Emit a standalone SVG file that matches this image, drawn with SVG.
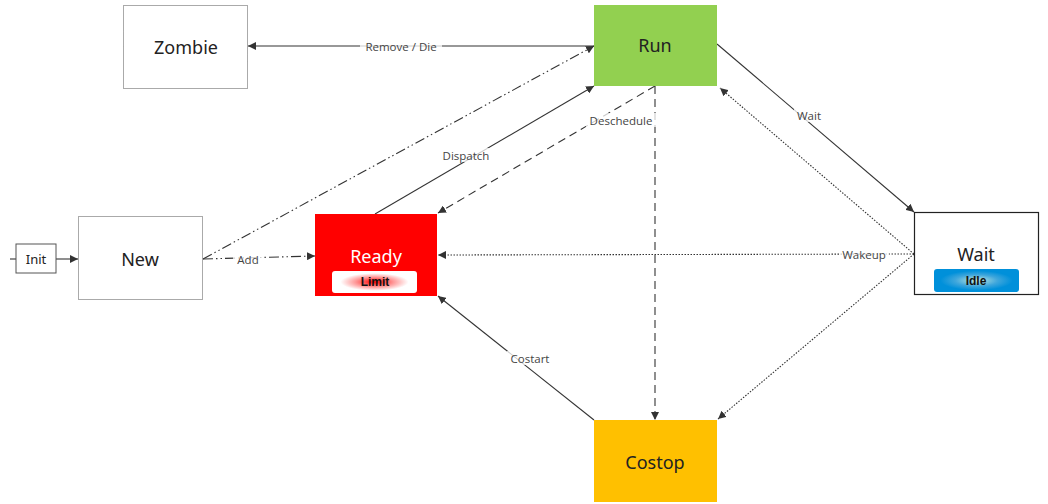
<svg xmlns="http://www.w3.org/2000/svg" width="1048" height="504" viewBox="0 0 1048 504">
<style>
.lbl{font-family:"Noto Sans","Open Sans",sans-serif;font-size:18px;fill:#222;text-anchor:middle;dominant-baseline:central}
.el{font-family:"Open Sans","Noto Sans",sans-serif;font-size:11.5px;fill:#444;text-anchor:middle;dominant-baseline:central}
.pill{font-family:"Liberation Sans","Noto Sans",sans-serif;font-size:12px;font-weight:bold;fill:#111;text-anchor:middle;dominant-baseline:central}
.c{fill:none;stroke:#333;stroke-width:1.1}
.dot{stroke-dasharray:1.5 1.5}
.dash{stroke-dasharray:8 5}
.dd{stroke-dasharray:10 3 1.5 3 1.5 3}
.lb{fill:#fff;opacity:0.75}
</style>
<defs>
<marker id="ah" viewBox="0 0 10 10" refX="10" refY="5" markerWidth="8" markerHeight="8" markerUnits="userSpaceOnUse" orient="auto">
<path d="M0,0 L10,5 L0,10 z" fill="#333"/>
</marker>
<radialGradient id="gLimit" cx="0.5" cy="0.5" r="0.5">
<stop offset="0" stop-color="#ff0000"/>
<stop offset="0.45" stop-color="#ff9a9a"/>
<stop offset="0.8" stop-color="#ffffff"/>
</radialGradient>
<radialGradient id="gIdle" cx="0.5" cy="0.5" r="0.5">
<stop offset="0" stop-color="#bfe8e0"/>
<stop offset="0.5" stop-color="#3ea6dc"/>
<stop offset="0.85" stop-color="#0090da"/>
</radialGradient>
</defs>
<rect width="1048" height="504" fill="#fff"/>
<g id="connectors">
<line class="c" x1="10" y1="259" x2="16" y2="259"/>
<line class="c" x1="56" y1="259" x2="78" y2="259" marker-end="url(#ah)"/>
<line class="c" x1="594" y1="46" x2="248" y2="46" marker-end="url(#ah)"/>
<line class="c dd" x1="203" y1="259" x2="315" y2="256" marker-end="url(#ah)"/>
<line class="c dd" x1="203" y1="259" x2="594" y2="46" marker-end="url(#ah)"/>
<line class="c" x1="375" y1="214" x2="594" y2="86" marker-end="url(#ah)"/>
<line class="c dash" x1="655" y1="86" x2="438" y2="213" marker-end="url(#ah)"/>
<line class="c dash" x1="655" y1="86" x2="655" y2="420" marker-end="url(#ah)"/>
<line class="c" x1="717" y1="44" x2="914" y2="212" marker-end="url(#ah)"/>
<line class="c dot" x1="914" y1="254" x2="720" y2="88" marker-end="url(#ah)"/>
<line class="c dot" x1="914" y1="254" x2="438" y2="255" marker-end="url(#ah)"/>
<line class="c dot" x1="914" y1="254" x2="718" y2="419" marker-end="url(#ah)"/>
<line class="c" x1="594" y1="420" x2="438" y2="296" marker-end="url(#ah)"/>
<rect class="lb" x="360" y="39" width="82" height="14"/>
<text class="el" x="401" y="46">Remove / Die</text>
<rect class="lb" x="233" y="252" width="30" height="14"/>
<text class="el" x="248" y="259">Add</text>
<rect class="lb" x="439" y="148" width="54" height="14"/>
<text class="el" x="466" y="155">Dispatch</text>
<rect class="lb" x="586" y="113" width="70" height="14"/>
<text class="el" x="621" y="120">Deschedule</text>
<rect class="lb" x="794" y="108" width="30" height="14"/>
<text class="el" x="809" y="115">Wait</text>
<rect class="lb" x="839" y="247" width="50" height="14"/>
<text class="el" x="864" y="254">Wakeup</text>
<rect class="lb" x="507" y="351" width="46" height="14"/>
<text class="el" x="530" y="358">Costart</text>
</g>
<g id="init">
<rect x="16" y="244" width="40" height="29" fill="#fff" stroke="#555" stroke-width="1"/>
<text class="lbl" x="36" y="259" style="font-size:13px">Init</text>
</g>
<g id="new">
<rect x="78.5" y="216.5" width="124" height="83" fill="#fff" stroke="#555" stroke-width="1" stroke-dasharray="1 1"/>
<text class="lbl" x="140" y="259">New</text>
</g>
<g id="zombie">
<rect x="123.5" y="5.5" width="124" height="83" fill="#fff" stroke="#555" stroke-width="1" stroke-dasharray="1 1"/>
<text class="lbl" x="186" y="47">Zombie</text>
</g>
<g id="run">
<rect x="594" y="5" width="123" height="81" fill="#92d050"/>
<text class="lbl" x="655" y="45">Run</text>
</g>
<g id="ready">
<rect x="315" y="214" width="122" height="82" fill="#ff0000"/>
<text class="lbl" x="376" y="256" style="fill:#fff">Ready</text>
<rect x="332" y="271" width="85" height="22" rx="3" fill="url(#gLimit)"/>
<text class="pill" x="375" y="282">Limit</text>
</g>
<g id="wait">
<rect x="914.5" y="212.5" width="124" height="82" fill="#fff" stroke="#222" stroke-width="1.2"/>
<text class="lbl" x="976" y="254">Wait</text>
<rect x="934" y="269" width="85" height="23" rx="3" fill="url(#gIdle)"/>
<text class="pill" x="976" y="280.5">Idle</text>
</g>
<g id="costop">
<rect x="594" y="420" width="123" height="82" fill="#ffc000"/>
<text class="lbl" x="655" y="462">Costop</text>
</g>
</svg>
